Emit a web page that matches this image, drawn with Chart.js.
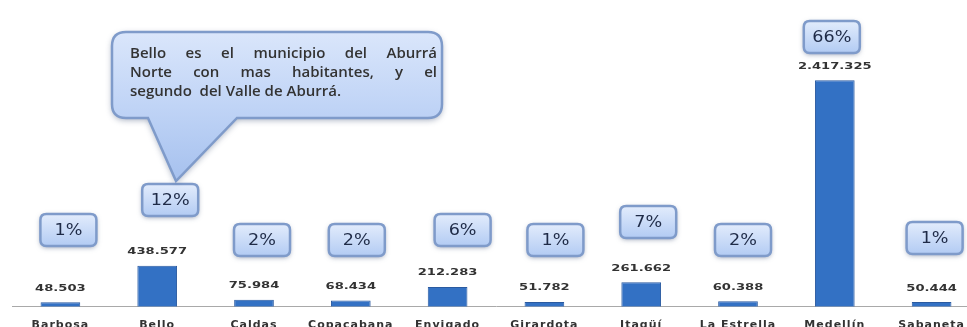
<!DOCTYPE html>
<html>
<head>
<meta charset="utf-8">
<script src="https://cdn.jsdelivr.net/npm/chart.js@4/dist/chart.umd.min.js"></script>
<style>
  html, body { margin: 0; padding: 0; background: #fff; overflow: hidden; }
  #frame { width: 967px; height: 327px; overflow: hidden; position: relative; }
  #wrap { width: 980px; height: 353px; position: absolute; left: 0; top: 0; }
</style>
</head>
<body>
<div id="frame"><div id="wrap"><canvas id="c"></canvas></div></div>
<script>
// Población por municipio del Valle de Aburrá
const municipios = ['Barbosa', 'Bello', 'Caldas', 'Copacabana', 'Envigado', 'Girardota', 'Itagüí', 'La Estrella', 'Medellín', 'Sabaneta'];
const habitantes = [48503, 438577, 75984, 68434, 212283, 51782, 261662, 60388, 2417325, 50444];

// Callout boxes with the share of each municipality: horizontal offset from the bar and box centre height
const shareBoxDx = [8, 13, 8, 6, 15, 11, 7, 5, -3, 3];
const shareBoxY  = [230, 200, 240, 240, 230, 240, 222, 240, 37, 238];

const notaLineas = [
  { text: 'Bello es el municipio del Aburrá', justify: true },
  { text: 'Norte con mas habitantes, y el', justify: true },
  { text: 'segundo  del Valle de Aburrá.', justify: false }
];

const total = habitantes.reduce((a, b) => a + b, 0);
const fmtMiles = v => String(v).replace(/\B(?=(\d{3})+(?!\d))/g, '.');

function roundRect(ctx, x, y, w, h, r) {
  ctx.beginPath();
  ctx.moveTo(x + r, y);
  ctx.lineTo(x + w - r, y);
  ctx.quadraticCurveTo(x + w, y, x + w, y + r);
  ctx.lineTo(x + w, y + h - r);
  ctx.quadraticCurveTo(x + w, y + h, x + w - r, y + h);
  ctx.lineTo(x + r, y + h);
  ctx.quadraticCurveTo(x, y + h, x, y + h - r);
  ctx.lineTo(x, y + r);
  ctx.quadraticCurveTo(x, y, x + r, y);
  ctx.closePath();
}

const textSpacing = {
  id: 'textSpacing',
  beforeDraw(chart) { chart.ctx.letterSpacing = '1px'; },
  beforeDatasetsDraw(chart) { chart.ctx.letterSpacing = '0px'; }
};

const etiquetas = {
  id: 'etiquetas',
  afterDatasetsDraw(chart) {
    const ctx = chart.ctx;
    const meta = chart.getDatasetMeta(0);
    ctx.save();
    ctx.letterSpacing = '0px';

    // value labels above each bar
    meta.data.forEach((bar, i) => {
      ctx.save();
      ctx.translate(bar.x, bar.y - 14);
      ctx.scale(1.38, 1);
      ctx.font = 'bold 9.5px "DejaVu Sans"';
      ctx.fillStyle = '#333';
      ctx.textAlign = 'center';
      ctx.textBaseline = 'middle';
      ctx.fillText(fmtMiles(habitantes[i]), 0, 0);
      ctx.restore();
    });

    // share boxes
    meta.data.forEach((bar, i) => {
      const cx = bar.x + shareBoxDx[i];
      const cy = shareBoxY[i];
      const w = 56, h = 32;
      const x = cx - w / 2, y = cy - h / 2;
      ctx.save();
      ctx.shadowColor = 'rgba(50,70,110,0.5)';
      ctx.shadowBlur = 5;
      ctx.shadowOffsetY = 1.5;
      roundRect(ctx, x, y, w, h, 6);
      const g = ctx.createLinearGradient(0, y, 0, y + h);
      g.addColorStop(0, '#e2ecfc');
      g.addColorStop(1, '#b2cbf3');
      ctx.fillStyle = g;
      ctx.fill();
      ctx.shadowColor = 'transparent';
      ctx.lineWidth = 2.5;
      ctx.strokeStyle = '#7f9bca';
      ctx.stroke();
      ctx.restore();

      ctx.save();
      ctx.translate(cx, cy + 1);
      ctx.scale(1.1, 1);
      ctx.font = '16px "DejaVu Sans"';
      ctx.fillStyle = '#1f2b47';
      ctx.textAlign = 'center';
      ctx.textBaseline = 'middle';
      ctx.fillText(Math.round(habitantes[i] / total * 100) + '%', 0, 0);
      ctx.restore();
    });

    // speech bubble pointing at Bello
    const bx = 112, by = 32, bw = 330, bh = 86, r = 14;
    const tailL = 148, tailR = 237, tipX = 176, tipY = 181;
    ctx.save();
    ctx.beginPath();
    ctx.moveTo(bx + r, by);
    ctx.lineTo(bx + bw - r, by);
    ctx.quadraticCurveTo(bx + bw, by, bx + bw, by + r);
    ctx.lineTo(bx + bw, by + bh - r);
    ctx.quadraticCurveTo(bx + bw, by + bh, bx + bw - r, by + bh);
    ctx.lineTo(tailR, by + bh);
    ctx.lineTo(tipX, tipY);
    ctx.lineTo(tailL, by + bh);
    ctx.lineTo(bx + r, by + bh);
    ctx.quadraticCurveTo(bx, by + bh, bx, by + bh - r);
    ctx.lineTo(bx, by + r);
    ctx.quadraticCurveTo(bx, by, bx + r, by);
    ctx.closePath();
    ctx.shadowColor = 'rgba(50,70,110,0.45)';
    ctx.shadowBlur = 6;
    ctx.shadowOffsetY = 2;
    const bg = ctx.createLinearGradient(0, by, 0, tipY);
    bg.addColorStop(0, '#dae6fb');
    bg.addColorStop(0.5, '#c0d4f6');
    bg.addColorStop(1, '#a6c1ee');
    ctx.fillStyle = bg;
    ctx.fill();
    ctx.shadowColor = 'transparent';
    ctx.lineWidth = 2.5;
    ctx.strokeStyle = '#7f9bca';
    ctx.stroke();
    ctx.restore();

    ctx.save();
    ctx.font = '600 15px "Open Sans"';
    ctx.fillStyle = '#333';
    ctx.textBaseline = 'alphabetic';
    const left = 130, right = 437;
    notaLineas.forEach((ln, k) => {
      const yb = 58 + k * 19;
      if (!ln.justify) {
        ctx.fillText(ln.text, left, yb);
        return;
      }
      const words = ln.text.split(' ');
      const wsum = words.reduce((s, w) => s + ctx.measureText(w).width, 0);
      const gap = (right - left - wsum) / (words.length - 1);
      let x = left;
      words.forEach(w => {
        ctx.fillText(w, x, yb);
        x += ctx.measureText(w).width + gap;
      });
    });
    ctx.restore();
    ctx.restore();
  }
};

new Chart(document.getElementById('c'), {
  type: 'bar',
  data: {
    labels: municipios,
    datasets: [{
      data: habitantes,
      backgroundColor: '#3371c4',
      borderColor: '#2a5aa0',
      borderWidth: 1,
      barPercentage: 0.82,
      categoryPercentage: 0.5
    }]
  },
  options: {
    responsive: true,
    maintainAspectRatio: false,
    animation: false,
    devicePixelRatio: 1,
    layout: { padding: { left: 12, right: 0, top: 5, bottom: 9 } },
    plugins: { legend: { display: false }, tooltip: { enabled: false } },
    scales: {
      x: {
        grid: { display: false, drawTicks: false },
        border: { display: true, color: '#a9a9a9', width: 1 },
        ticks: {
          padding: 12,
          autoSkip: false,
          maxRotation: 0,
          color: '#333',
          font: { family: '"DejaVu Sans"', weight: 'bold', size: 11 }
        }
      },
      y: { display: false, min: 0, max: 3220000 }
    }
  },
  plugins: [textSpacing, etiquetas]
});
</script>
</body>
</html>
